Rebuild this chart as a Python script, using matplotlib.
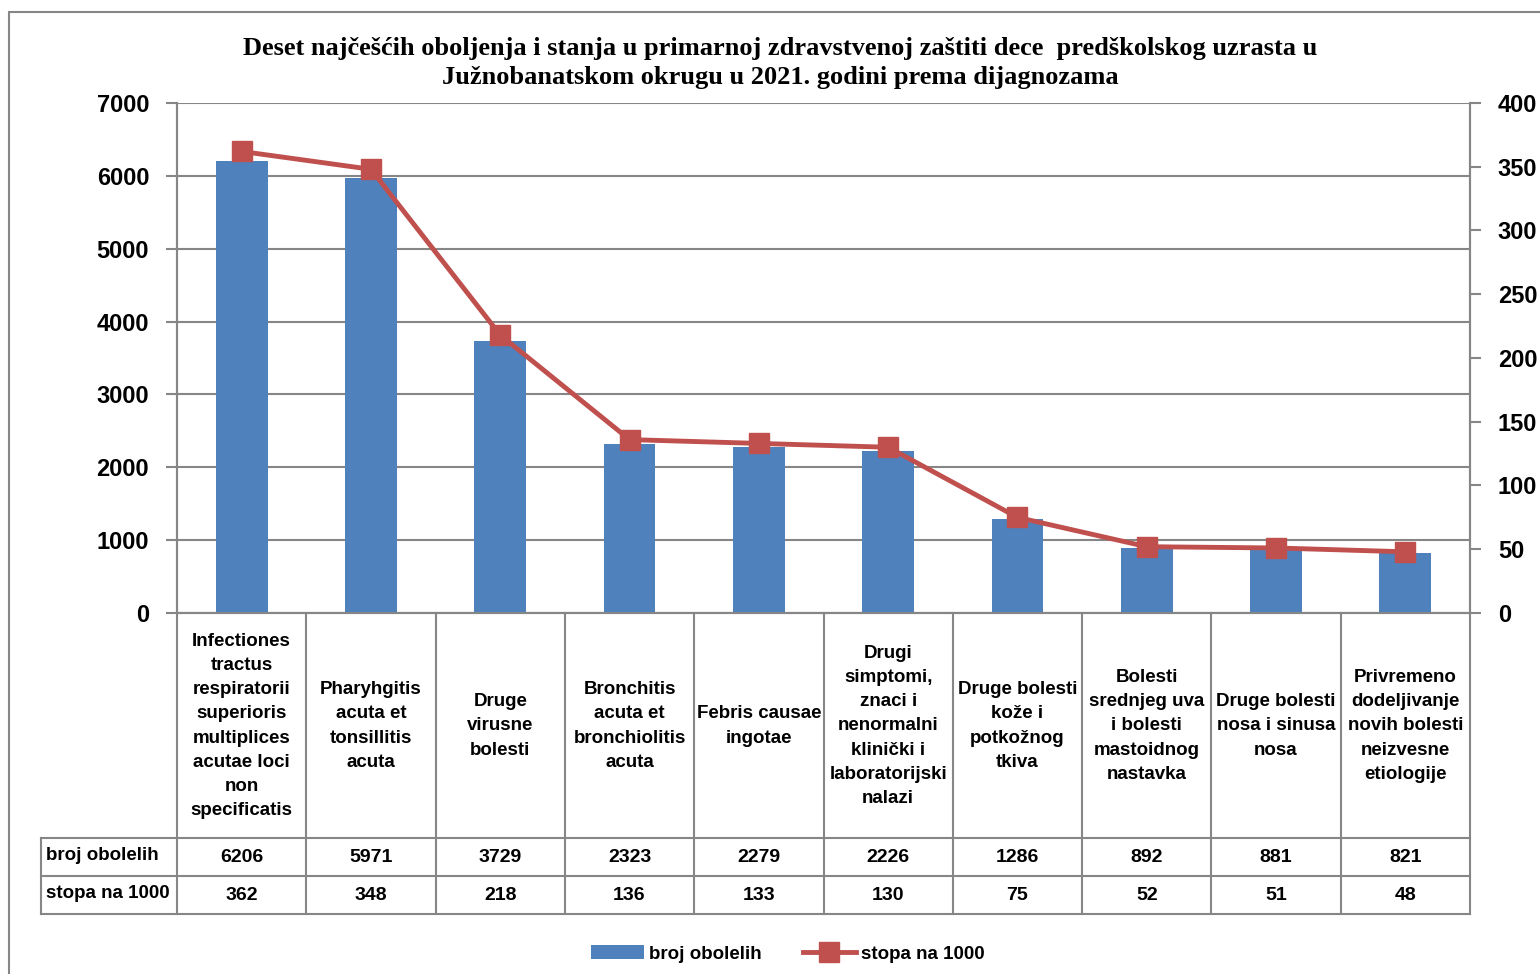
import numpy as np
import matplotlib.pyplot as plt
from matplotlib.lines import Line2D
from matplotlib.patches import Rectangle
import matplotlib.transforms as mtransforms

categories = [
    'Infectiones\ntractus\nrespiratorii\nsuperioris\nmultiplices\nacutae loci\nnon\nspecificatis',
    'Pharyhgitis\nacuta et\ntonsillitis\nacuta',
    'Druge\nvirusne\nbolesti',
    'Bronchitis\nacuta et\nbronchiolitis\nacuta',
    'Febris causae\ningotae',
    'Drugi\nsimptomi,\nznaci i\nnenormalni\nklinički i\nlaboratorijski\nnalazi',
    'Druge bolesti\nkože i\npotkožnog\ntkiva',
    'Bolesti\nsrednjeg uva\ni bolesti\nmastoidnog\nnastavka',
    'Druge bolesti\nnosa i sinusa\nnosa',
    'Privremeno\ndodeljivanje\nnovih bolesti\nneizvesne\netiologije',
]
broj_obolelih = [6206, 5971, 3729, 2323, 2279, 2226, 1286, 892, 881, 821]
stopa = [362, 348, 218, 136, 133, 130, 75, 52, 51, 48]
row_labels = ['broj obolelih', 'stopa na 1000']

title = ('Deset najčešćih oboljenja i stanja u primarnoj zdravstvenoj zaštiti dece  predškolskog uzrasta u\n'
         'Južnobanatskom okrugu u 2021. godini prema dijagnozama')

W, H = 1540, 974
sans = ['Liberation Sans', 'DejaVu Sans']
gray = '#868686'
blue = '#4F81BD'
red = '#C0504D'


def px(x, y):
    return x / W, 1 - y / H


fig = plt.figure(figsize=(W / 100, H / 100), dpi=100)
L, R, T, B = 177, 1470, 103, 613
ax = fig.add_axes([L / W, 1 - B / H, (R - L) / W, (B - T) / H])
ax2 = ax.twinx()

n = len(categories)
x = np.arange(n)

ax.bar(x, broj_obolelih, width=0.4, color=blue, zorder=3, label='broj obolelih')
ax.set_xlim(-0.5, n - 0.5)
ax.set_ylim(0, 7000)
ax.set_yticks(range(0, 7001, 1000))
ax.set_xticks([])
ax.yaxis.grid(True, color=gray, lw=1.5)
ax.set_axisbelow(True)

ax2.plot(x, stopa, color=red, lw=3.5, marker='s', markersize=14.5, zorder=4, label='stopa na 1000')
ax2.set_ylim(0, 400)
ax2.set_yticks(range(0, 401, 50))

for a in (ax, ax2):
    a.spines['top'].set_visible(False)
    for s in ('left', 'right', 'bottom'):
        a.spines[s].set_color(gray)
        a.spines[s].set_linewidth(1.5)
    a.tick_params(axis='y', length=8, width=1.5, color=gray, pad=12,
                  labelsize=17)
    for lab in a.get_yticklabels():
        lab.set_fontfamily(sans)
        lab.set_fontweight('bold')

# table under the plot
blend = mtransforms.blended_transform_factory(ax.transData, fig.transFigure)
bounds = np.arange(n + 1) - 0.5
for b in bounds:
    ax.add_artist(Line2D([b, b], [1 - B / H, 1 - 914 / H], transform=blend,
                         color=gray, lw=1.5, clip_on=False))
for yy in (838, 876, 914):
    fig.add_artist(Line2D([41 / W, R / W], [1 - yy / H, 1 - yy / H], color=gray, lw=1.5))
fig.add_artist(Line2D([41 / W, 41 / W], [1 - 838 / H, 1 - 914 / H], color=gray, lw=1.5))

for i, c in enumerate(categories):
    ax.text(i, 1 - 726 / H, c, transform=blend, ha='center', va='center',
            fontsize=13.5, fontweight='bold', family=sans, linespacing=1.55)
    ax.text(i, 1 - 857 / H, str(broj_obolelih[i]), transform=blend, ha='center', va='center',
            fontsize=14, fontweight='bold', family=sans)
    ax.text(i, 1 - 895 / H, str(stopa[i]), transform=blend, ha='center', va='center',
            fontsize=14, fontweight='bold', family=sans)
for lab, yy in zip(row_labels, (855, 893)):
    fig.text(*px(46, yy), lab, ha='left', va='center', fontsize=13.5,
             fontweight='bold', family=sans)

fig.text(*px(780, 63), title, ha='center', va='center', fontsize=19,
         fontweight='bold', family='Liberation Serif', linespacing=1.35)

handles = [ax.containers[0], ax2.get_lines()[0]]
fig.legend(handles, ['broj obolelih', 'stopa na 1000'], loc='center',
           bbox_to_anchor=px(788, 954), ncol=2, frameon=False,
           handlelength=2.8, handletextpad=0.3, columnspacing=2.2,
           prop={'family': sans, 'weight': 'bold', 'size': 13.5})

fig.add_artist(Rectangle(px(9, 1200), 2000 / W, (1200 - 12) / H, fill=False,
                         edgecolor=gray, lw=1.5, transform=fig.transFigure))

fig.savefig('out.png', dpi=100)
